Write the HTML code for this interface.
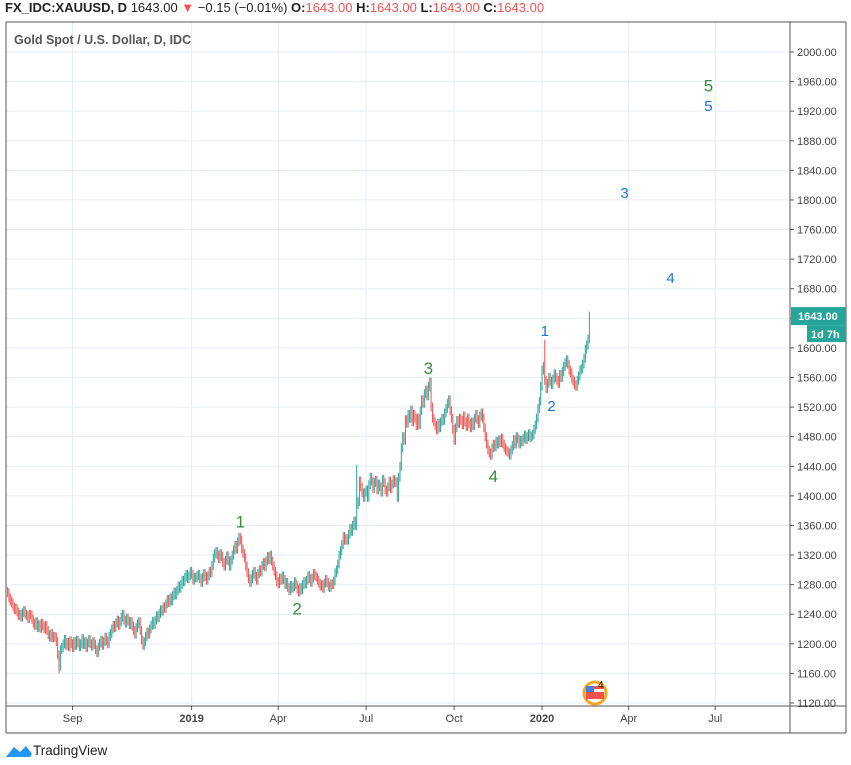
<!DOCTYPE html>
<html><head><meta charset="utf-8">
<style>
body{margin:0;width:851px;height:765px;background:#fff;font-family:"Liberation Sans",sans-serif;overflow:hidden;position:relative}
#hdr{position:absolute;left:5px;top:0px;font-size:13px;color:#222;white-space:nowrap}
#hdr b{font-weight:bold}
#hdr .r{color:#ef5350}
#tv{position:absolute;left:33px;top:743px;font-size:13.5px;color:#222}
</style></head><body>
<div id="hdr"><b>FX_IDC:XAUUSD, D</b> 1643.00 <span class="r">▼</span> −0.15 (−0.01%) <b>O:</b><span class="r">1643.00</span> <b>H:</b><span class="r">1643.00</span> <b>L:</b><span class="r">1643.00</span> <b>C:</b><span class="r">1643.00</span></div>
<svg id="chart" width="851" height="765" style="position:absolute;left:0;top:0">
<g id="grid"></g>
<g id="candles"></g>
<g id="frame"></g>
<g id="labels"></g>
</svg>
<div id="tv">TradingView</div>
<script>
const closes=[
1269,1262,1258,1255,1250,1246,1248,1243,1238,1240,
1236,1242,1245,1240,1238,1234,1240,1239,1233,1228,
1225,1230,1222,1226,1221,1228,1224,1220,1225,1218,
1212,1209,1214,1208,1210,1209,1203,1185,1170,1192,
1195,1200,1206,1198,1202,1196,1204,1200,1195,1203,
1198,1205,1201,1196,1200,1207,1199,1203,1195,1201,
1206,1200,1197,1203,1199,1192,1188,1196,1201,1205,
1198,1203,1209,1204,1200,1210,1214,1220,1225,1222,
1228,1232,1225,1230,1236,1240,1232,1228,1235,1231,
1226,1230,1224,1218,1213,1222,1227,1230,1218,1205,
1198,1203,1210,1216,1213,1220,1225,1230,1226,1232,
1238,1235,1241,1246,1244,1250,1248,1254,1260,1256,
1262,1258,1265,1270,1266,1272,1278,1275,1280,1286,
1284,1290,1294,1288,1292,1298,1294,1286,1290,1289,
1292,1294,1288,1283,1290,1295,1291,1286,1292,1298,
1296,1306,1316,1322,1325,1320,1315,1322,1318,1310,
1305,1313,1319,1312,1305,1313,1320,1327,1333,1328,
1338,1344,1340,1328,1322,1316,1305,1296,1288,1283,
1288,1294,1298,1291,1286,1295,1300,1297,1306,1310,
1304,1312,1318,1314,1320,1312,1305,1298,1292,1284,
1281,1289,1286,1292,1287,1280,1283,1276,1272,1279,
1275,1277,1284,1280,1274,1270,1276,1273,1280,1284,
1281,1286,1292,1288,1283,1289,1295,1292,1290,1286,
1282,1278,1280,1275,1282,1287,1283,1278,1276,1281,
1280,1285,1296,1300,1308,1320,1326,1334,1345,1340,
1342,1340,1348,1356,1352,1360,1366,1360,1388,1392,
1420,1412,1404,1398,1405,1408,1398,1415,1425,1420,
1410,1418,1421,1408,1416,1412,1405,1422,1418,1408,
1405,1412,1420,1410,1416,1422,1418,1419,1398,1425,
1440,1465,1480,1475,1503,1498,1510,1505,1516,1500,
1510,1505,1495,1505,1496,1515,1530,1525,1538,1543,
1535,1548,1554,1520,1505,1500,1495,1489,1498,1492,
1500,1505,1502,1512,1518,1525,1530,1515,1505,1490,
1475,1492,1502,1498,1505,1502,1496,1508,1500,1494,
1505,1498,1492,1500,1495,1505,1510,1503,1498,1508,
1512,1505,1492,1480,1470,1462,1458,1455,1465,1470,
1466,1474,1470,1476,1472,1478,1470,1465,1462,1460,
1458,1455,1462,1468,1476,1470,1480,1477,1470,1475,
1473,1478,1482,1476,1480,1484,1479,1481,1483,1490,
1496,1505,1518,1528,1548,1570,1575,1556,1545,1552,
1560,1555,1550,1558,1565,1560,1556,1552,1564,1560,
1568,1575,1580,1584,1578,1570,1566,1558,1555,1550,
1548,1556,1562,1570,1572,1578,1586,1598,1604,1612,
1643];
const spikeIdx=[38,258,397];
const spikeVal=[1160,1442,1611];
const priceTicks=[1120,1160,1200,1240,1280,1320,1360,1400,1440,1480,1520,1560,1600,1640,1680,1720,1760,1800,1840,1880,1920,1960,2000];
const monthLabels=["Sep","2019","Apr","Jul","Oct","2020","Apr","Jul"];
const monthBarIdx=[48,136,200,265,330,395,459,523];
const waveLabels=["1","2","3","4","5","1","2","3","4","5"];
const waveIdx=[172,214,311,359,518,397,402,456,490,518];
const wavePrice=[1365,1248,1573,1427,1955,1624,1523,1811,1696,1928];
const waveColor=["g","g","g","g","g","b","b","b","b","b"];

const NS="http://www.w3.org/2000/svg";
const X0=7.6,DX=1.353,PL=6,PR=790,PT=22,PB=706;
const y=p=>703-(p-1120)*0.7398;
const x=i=>X0+i*DX;
function mk(tag,attrs,parent){const e=document.createElementNS(NS,tag);for(const k in attrs)e.setAttribute(k,attrs[k]);document.getElementById(parent).appendChild(e);return e;}

priceTicks.forEach(p=>{
 const l=mk('line',{x1:PL,x2:PR,y1:y(p),y2:y(p),stroke:'#e6edf3','stroke-width':1},'grid');
 
 
 mk('line',{x1:PR,x2:PR+4,y1:y(p),y2:y(p),stroke:'#555'},'frame');
 const t=mk('text',{x:797,y:y(p)+4,'font-size':11,fill:'#444'},'labels');
 t.textContent=p.toFixed(2);
 
 
});
monthLabels.forEach((m,k)=>{
 const xx=x(monthBarIdx[k]);
 const l=mk('line',{x1:xx,x2:xx,y1:PT,y2:PB,stroke:'#e6edf3'},'grid');
 
 
 mk('line',{x1:xx,x2:xx,y1:PB,y2:PB+4,stroke:'#555'},'frame');
 const t=mk('text',{x:xx,y:722,'font-size':11,fill:'#444','text-anchor':'middle','font-weight':(m.length==4?'bold':'normal')},'labels');
 t.textContent=m;
 
 
});
closes.forEach((c,i)=>{
 const o=i?closes[i-1]:c+2;
 let hi=Math.max(o,c)+6,lo=Math.min(o,c)-6;
 const s=spikeIdx.indexOf(i);
 if(s>=0){if(spikeVal[s]>c)hi=spikeVal[s];else lo=spikeVal[s];}
 const col=c>=o?'#26a69a':'#ef5350';
 const xx=x(i);
 const w=mk('line',{x1:xx,x2:xx,y1:y(hi),y2:y(lo),stroke:col,'stroke-width':1},'candles');
 
 
});
[['line',{x1:PL,x2:PL,y1:PT,y2:733}],['line',{x1:PL,x2:846,y1:PT,y2:PT}],['line',{x1:PL,x2:846,y1:733,y2:733}],['line',{x1:846,x2:846,y1:PT,y2:733}],['line',{x1:PL,x2:846,y1:PB,y2:PB}],['line',{x1:PR,x2:PR,y1:PT,y2:733}]].forEach(a=>{a[1].stroke='#555';mk(a[0],a[1],'frame');});
const ttl=mk('text',{x:14,y:44,'font-size':12.5,fill:'#555','font-weight':'bold'},'labels');
ttl.textContent='Gold Spot / U.S. Dollar, D, IDC';


waveLabels.forEach((w,k)=>{
 const g=waveColor[k]=='g';
 const t=mk('text',{x:x(waveIdx[k]),y:y(wavePrice[k])+6,'font-size':g?17:15,fill:g?'#388e3c':'#1e73d2','text-anchor':'middle'},'labels');
 t.textContent=w;
 
 
});
const lp=closes[closes.length-1];
mk('rect',{x:791,y:y(lp)-9,width:55,height:18,fill:'#26a69a'},'labels');
const bt=mk('text',{x:798,y:y(lp)+4,'font-size':11,fill:'#fff','font-weight':'bold'},'labels');
bt.textContent=lp.toFixed(2);


mk('rect',{x:807,y:y(lp)+9,width:39,height:17,fill:'#26a69a'},'labels');
const ct=mk('text',{x:811,y:y(lp)+22,'font-size':11,fill:'#fff','font-weight':'bold'},'labels');
ct.textContent='1d 7h';


const c1=mk('circle',{cx:595,cy:693,r:11,fill:'none',stroke:'#f5a623','stroke-width':3},'labels');


mk('rect',{x:586,y:686,width:18,height:13,fill:'#ef5350'},'labels');
mk('rect',{x:586,y:689,width:18,height:3,fill:'#fff'},'labels');
mk('rect',{x:586,y:686,width:8,height:6,fill:'#4a7fd6'},'labels');
const et=mk('text',{x:598,y:688,'font-size':10,fill:'#111'},'labels');
et.textContent='4';
const lg=mk('path',{d:'M6 757 L14 747 L20 752 L26 746 L32 754 L30 757 Z',fill:'#2196f3'},'labels');


</script>
</body></html>
